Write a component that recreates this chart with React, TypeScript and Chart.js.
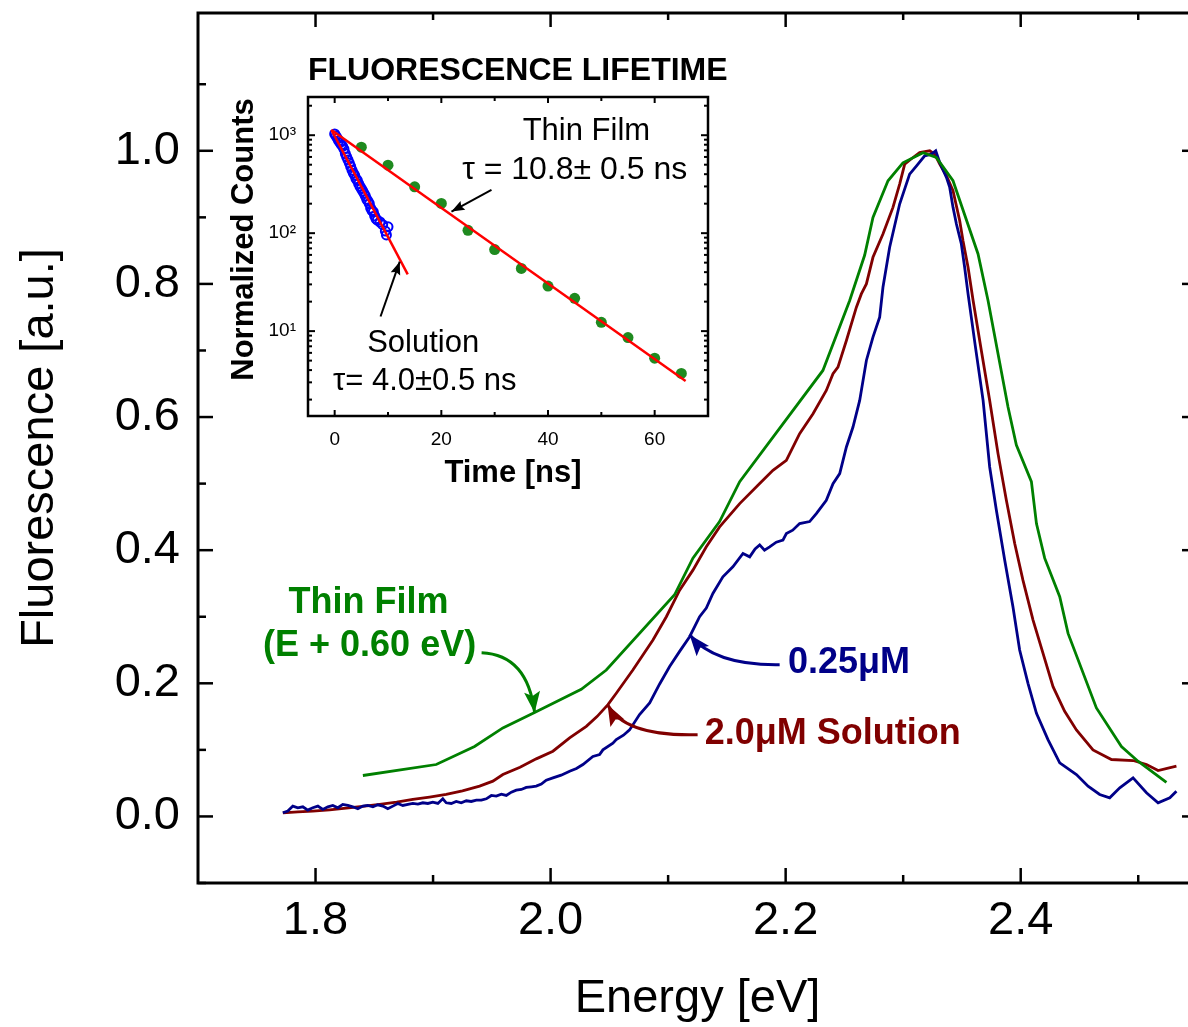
import React, { useEffect, useRef } from "react";
import { Chart, registerables } from "chart.js";

Chart.register(...registerables);

const FONT = '"Liberation Sans", Arial, Helvetica, sans-serif';

// ---------- main spectra ----------
const lowConcE = [
  1.7722, 1.7764, 1.7807, 1.7849, 1.7892, 1.7934, 1.7977, 1.802, 1.8062, 1.8105, 1.8147, 1.819, 1.8232, 1.8275,
  1.8317, 1.836, 1.8403, 1.8445, 1.8488, 1.853, 1.8573, 1.8615, 1.8658, 1.87, 1.8743, 1.8786, 1.8828, 1.8871,
  1.8913, 1.8956, 1.8998, 1.9041, 1.9083, 1.9112, 1.9155, 1.9197, 1.924, 1.9283, 1.9325, 1.9368, 1.9411, 1.9453,
  1.9496, 1.9538, 1.9581, 1.9623, 1.9666, 1.9708, 1.9751, 1.9793, 1.9836, 1.9878, 1.9921, 1.9963, 2.002, 2.009,
  2.0162, 2.022, 2.0275, 2.036, 2.0417, 2.0445, 2.053, 2.0559, 2.062, 2.0672, 2.0757, 2.0843, 2.0928, 2.1013,
  2.1098, 2.1183, 2.1268, 2.1325, 2.1381, 2.1466, 2.1551, 2.1637, 2.1694, 2.174, 2.1779, 2.182, 2.1864, 2.192,
  2.1977, 2.2006, 2.206, 2.2119, 2.2204, 2.2261, 2.2346, 2.2403, 2.246, 2.2517, 2.2573, 2.263, 2.2687, 2.2743,
  2.28, 2.2828, 2.2885, 2.297, 2.3055, 2.3112, 2.3183, 2.324, 2.3277, 2.3311, 2.3368, 2.3396, 2.3424, 2.3453,
  2.3495, 2.3523, 2.3552, 2.3615, 2.368, 2.3736, 2.3793, 2.3864, 2.3934, 2.3991, 2.4062, 2.4134, 2.4232, 2.4332,
  2.4474, 2.4573, 2.4672, 2.4757, 2.4843, 2.4956, 2.507, 2.5169, 2.5269, 2.5325,
];
const lowConcF = [
  0.0055, 0.008, 0.0155, 0.013, 0.0145, 0.0095, 0.013, 0.0155, 0.0105, 0.0145, 0.0165, 0.013, 0.018, 0.0165,
  0.0145, 0.0115, 0.0155, 0.0165, 0.0145, 0.0175, 0.0155, 0.0115, 0.0155, 0.0195, 0.0165, 0.018, 0.0195, 0.0185,
  0.0205, 0.0195, 0.0215, 0.0195, 0.0265, 0.0205, 0.0195, 0.0225, 0.0205, 0.0235, 0.0225, 0.0245, 0.0245, 0.0265,
  0.0315, 0.0305, 0.0335, 0.0315, 0.0365, 0.0395, 0.0405, 0.0435, 0.0445, 0.0455, 0.0485, 0.0545, 0.058, 0.062,
  0.068, 0.072, 0.078, 0.09, 0.093, 0.1, 0.11, 0.1155, 0.122, 0.13, 0.153, 0.1705, 0.199, 0.2253,
  0.248, 0.27, 0.3, 0.313, 0.335, 0.36, 0.375, 0.395, 0.39, 0.402, 0.408, 0.4, 0.405, 0.412,
  0.415, 0.425, 0.43, 0.44, 0.443, 0.455, 0.475, 0.5, 0.515, 0.555, 0.585, 0.625, 0.685, 0.72,
  0.75, 0.795, 0.855, 0.92, 0.965, 0.977, 0.9925, 0.995, 1.0, 0.9825, 0.96, 0.945, 0.915, 0.89,
  0.86, 0.825, 0.785, 0.705, 0.625, 0.525, 0.46, 0.385, 0.315, 0.25, 0.2, 0.155, 0.1155, 0.0805,
  0.063, 0.0454, 0.033, 0.028, 0.043, 0.058, 0.0355, 0.0205, 0.028, 0.038,
];

const highConcE = [
  1.7722, 1.785, 1.7977, 1.812, 1.8261, 1.84, 1.8545, 1.869, 1.8828, 1.897, 1.9112, 1.925, 1.9396, 1.9509,
  1.9594, 1.974, 1.9878, 2.002, 2.0162, 2.0304, 2.0395, 2.0488, 2.0559, 2.07, 2.0871, 2.0985, 2.1098, 2.1211,
  2.1325, 2.1438, 2.1609, 2.1779, 2.1892, 2.2006, 2.2119, 2.2233, 2.2346, 2.2403, 2.2445, 2.2517, 2.2602, 2.2644,
  2.2687, 2.2743, 2.2828, 2.2913, 2.297, 2.3013, 2.307, 2.314, 2.3226, 2.3268, 2.3311, 2.3368, 2.3424, 2.3481,
  2.3509, 2.3552, 2.3595, 2.3665, 2.3736, 2.3807, 2.3878, 2.3949, 2.4019, 2.4105, 2.419, 2.4275, 2.4374, 2.4474,
  2.4615, 2.4772, 2.4956, 2.507, 2.5169, 2.5325,
];
const highConcF = [
  0.0055, 0.007, 0.008, 0.01, 0.0125, 0.015, 0.018, 0.0215, 0.0255, 0.029, 0.033, 0.0385, 0.0455, 0.053,
  0.063, 0.074, 0.0865, 0.098, 0.118, 0.1354, 0.15, 0.168, 0.185, 0.22, 0.265, 0.3, 0.34, 0.37,
  0.405, 0.435, 0.47, 0.5, 0.52, 0.535, 0.575, 0.605, 0.64, 0.665, 0.675, 0.715, 0.765, 0.785,
  0.8, 0.84, 0.875, 0.915, 0.95, 0.98, 0.988, 0.9975, 1.0, 0.995, 0.98, 0.9625, 0.94, 0.895,
  0.865, 0.825, 0.775, 0.7, 0.625, 0.545, 0.475, 0.41, 0.355, 0.295, 0.245, 0.195, 0.158, 0.13,
  0.1, 0.0855, 0.084, 0.078, 0.069, 0.0755,
];

const filmE = [
  1.8403, 1.9027, 1.9353, 1.9594, 1.9864, 2.0261, 2.0474, 2.1055, 2.1211, 2.1438, 2.1609, 2.2317, 2.2545, 2.2672,
  2.2743, 2.2871, 2.2998, 2.3169, 2.3282, 2.3424, 2.3637, 2.3722, 2.3892, 2.3963, 2.4091, 2.4134, 2.4204, 2.4332,
  2.4403, 2.4644, 2.4857, 2.4998, 2.524,
];
const filmF = [
  0.0615, 0.078, 0.105, 0.133, 0.156, 0.191, 0.22, 0.333, 0.388, 0.443, 0.503, 0.67, 0.775, 0.843,
  0.9, 0.955, 0.982, 0.997, 0.99, 0.955, 0.845, 0.775, 0.615, 0.558, 0.503, 0.44, 0.388, 0.33,
  0.275, 0.163, 0.105, 0.083, 0.051,
];

const xTickValues = [1.8, 2.0, 2.2, 2.4];
const xMinorValues = [1.9, 2.1, 2.3, 2.5];
const yTickValues = [0, 0.2, 0.4, 0.6, 0.8, 1.0];
const yMinorValues = [-0.1, 0.1, 0.3, 0.5, 0.7, 0.9, 1.1];

// annotation anchors (data coordinates)
const filmLabelAt = [1.845, 0.3208];
const filmShiftLabelAt = [1.846, 0.2564];
const lowConcLabelAt = [2.202, 0.2309];
const highConcLabelAt = [2.1311, 0.1244];
const filmArrow = [[1.9413, 0.2459], [1.9804, 0.2429], [1.9864, 0.1559]];
const lowConcArrow = [[2.1949, 0.2279], [2.1396, 0.2264], [2.1183, 0.2729]];
const highConcArrow = [[2.1251, 0.1229], [2.063, 0.1199], [2.0485, 0.1679]];

// ---------- inset: fluorescence lifetime ----------
const filmT = [5, 10, 15, 20, 25, 30, 35, 40, 45, 50, 55, 60, 65];
const filmCounts = [755, 494, 297, 201, 107, 68, 43.6, 28.8, 21.6, 12.3, 8.6, 5.3, 3.7];
const solT = [
  0, 0.25, 0.5, 0.75, 1.0, 1.25, 1.5, 1.75, 2.0, 2.25, 2.5, 2.75, 3.0, 3.25, 3.5, 3.75, 4.0, 4.25, 4.5,
  4.75, 5.0, 5.25, 5.5, 5.75, 6.0, 6.25, 6.5, 6.75, 7.0, 7.25, 7.5, 7.75, 8.0, 8.5, 9.0, 9.5, 9.7, 10.0,
];
const solCounts = [
  1030, 980, 930, 880, 840, 800, 770, 720, 650, 600, 560, 520, 480, 440, 410, 390, 360, 345, 320,
  300, 285, 270, 255, 240, 222, 212, 200, 180, 170, 165, 150, 140, 136, 130, 122, 105, 96, 116,
];
const filmFitT = [-0.6, 65.8];
const filmFitCounts = [1130, 3.1];
const solFitT = [-0.6, 13.7];
const solFitCounts = [1130, 38];

const insetXTicks = [0, 20, 40, 60];
const insetXMinor = [10, 30, 50];
const insetYTicks = [10, 100, 1000];
const insetYTickLabels = ["10¹", "10²", "10³"];

const insetFilmNameAt = [47.2, 1086];
const insetFilmTauAt = [45.0, 441];
const insetFilmArrow = [[29.4, 276], [21.9, 166]];
const insetSolNameAt = [16.6, 7.52];
const insetSolTauAt = [16.9, 3.05];
const insetSolArrow = [[8.6, 14.1], [12.2, 51.2]];

const FILM_GREEN = "#008000";
const LOW_BLUE = "#000088";
const HIGH_RED = "#800000";

function xy(xs: number[], ys: number[]) {
  return xs.map((x, i) => ({ x, y: ys[i] }));
}

function seg(ctx: CanvasRenderingContext2D, x1: number, y1: number, x2: number, y2: number) {
  ctx.beginPath();
  ctx.moveTo(x1, y1);
  ctx.lineTo(x2, y2);
  ctx.stroke();
}

function arrowHead(
  ctx: CanvasRenderingContext2D,
  tx: number, ty: number, fx: number, fy: number,
  len: number, half: number, notch: number
) {
  const a = Math.atan2(ty - fy, tx - fx);
  const c = Math.cos(a), s = Math.sin(a);
  const bx = tx - len * c, by = ty - len * s;
  ctx.beginPath();
  ctx.moveTo(tx, ty);
  ctx.lineTo(bx - half * s, by + half * c);
  ctx.lineTo(tx - len * notch * c, ty - len * notch * s);
  ctx.lineTo(bx + half * s, by - half * c);
  ctx.closePath();
  ctx.fill();
}

function noScalePadding(s: any) {
  s.paddingTop = 0;
  s.paddingBottom = 0;
  s.paddingLeft = 0;
  s.paddingRight = 0;
}

const mainDecor = {
  id: "mainDecor",
  afterDraw(chart: any) {
    const { ctx, chartArea: a, scales } = chart;
    const xs = scales.x, ys = scales.y;
    const P = (p: number[]) => [xs.getPixelForValue(p[0]), ys.getPixelForValue(p[1])];
    ctx.save();
    ctx.strokeStyle = "#000";
    ctx.lineCap = "butt";
    ctx.lineWidth = 2.5;
    for (const v of xTickValues) {
      const p = xs.getPixelForValue(v);
      seg(ctx, p, a.bottom, p, a.bottom - 15);
      seg(ctx, p, a.top, p, a.top + 14);
    }
    for (const v of xMinorValues) {
      const p = xs.getPixelForValue(v);
      seg(ctx, p, a.bottom, p, a.bottom - 8);
      seg(ctx, p, a.top, p, a.top + 7);
    }
    for (const v of yTickValues) {
      const p = ys.getPixelForValue(v);
      seg(ctx, a.left, p, a.left + 15, p);
      seg(ctx, a.right, p, a.right - 15, p);
    }
    for (const v of yMinorValues) {
      const p = ys.getPixelForValue(v);
      seg(ctx, a.left, p, a.left + 8, p);
      seg(ctx, a.right, p, a.right - 8, p);
    }
    ctx.lineWidth = 3;
    ctx.strokeRect(a.left, a.top, a.right - a.left, a.bottom - a.top);

    // labels
    ctx.font = `bold 36px ${FONT}`;
    ctx.textBaseline = "middle";
    ctx.fillStyle = FILM_GREEN;
    ctx.textAlign = "center";
    let q = P(filmLabelAt);
    ctx.fillText("Thin Film", q[0], q[1]);
    q = P(filmShiftLabelAt);
    ctx.fillText("(E + 0.60 eV)", q[0], q[1]);
    ctx.textAlign = "left";
    ctx.fillStyle = LOW_BLUE;
    q = P(lowConcLabelAt);
    ctx.fillText("0.25μM", q[0], q[1]);
    ctx.fillStyle = HIGH_RED;
    q = P(highConcLabelAt);
    ctx.fillText("2.0μM Solution", q[0], q[1]);

    // curved arrows
    const arrows: [number[][], string][] = [
      [filmArrow, FILM_GREEN],
      [lowConcArrow, LOW_BLUE],
      [highConcArrow, HIGH_RED],
    ];
    for (const [pts, col] of arrows) {
      const s = P(pts[0]), c = P(pts[1]), t = P(pts[2]);
      ctx.strokeStyle = col;
      ctx.fillStyle = col;
      ctx.lineWidth = 3;
      ctx.beginPath();
      ctx.moveTo(s[0], s[1]);
      ctx.quadraticCurveTo(c[0], c[1], t[0], t[1]);
      ctx.stroke();
      arrowHead(ctx, t[0], t[1], c[0], c[1], 21, 8, 0.8);
    }
    ctx.restore();
  },
};

const insetDecor = {
  id: "insetDecor",
  afterDraw(chart: any) {
    const { ctx, chartArea: a, scales } = chart;
    const xs = scales.x, ys = scales.y;
    const P = (p: number[]) => [xs.getPixelForValue(p[0]), ys.getPixelForValue(p[1])];
    ctx.save();
    ctx.strokeStyle = "#000";
    ctx.lineWidth = 2;
    for (const v of insetXTicks) {
      const p = xs.getPixelForValue(v);
      seg(ctx, p, a.bottom, p, a.bottom - 6);
      seg(ctx, p, a.top, p, a.top + 6);
    }
    for (const v of insetXMinor) {
      const p = xs.getPixelForValue(v);
      seg(ctx, p, a.bottom, p, a.bottom - 4);
      seg(ctx, p, a.top, p, a.top + 4);
    }
    for (let k = 0; k <= 3; k++) {
      for (let m = 1; m <= 9; m++) {
        const v = m * Math.pow(10, k);
        if (v < ys.min || v > ys.max) continue;
        const p = ys.getPixelForValue(v);
        const len = m === 1 ? 7 : 4;
        seg(ctx, a.left, p, a.left + len, p);
        seg(ctx, a.right, p, a.right - len, p);
      }
    }
    ctx.lineWidth = 2.5;
    ctx.strokeRect(a.left, a.top, a.right - a.left, a.bottom - a.top);

    ctx.fillStyle = "#000";
    ctx.textBaseline = "middle";
    ctx.font = `bold 32px ${FONT}`;
    ctx.textAlign = "left";
    ctx.fillText("FLUORESCENCE LIFETIME", a.left, a.top - 26);
    ctx.font = `bold 31px ${FONT}`;
    ctx.textAlign = "center";
    ctx.fillText("Time [ns]", (a.left + a.right) / 2 + 5, a.bottom + 57);
    ctx.save();
    ctx.translate(a.left - 64, (a.top + a.bottom) / 2 - 17);
    ctx.rotate(-Math.PI / 2);
    ctx.fillText("Normalized Counts", 0, 0);
    ctx.restore();

    ctx.font = `31px ${FONT}`;
    let q = P(insetFilmNameAt);
    ctx.fillText("Thin Film", q[0], q[1]);
    q = P(insetFilmTauAt);
    ctx.font = `32px ${FONT}`;
    ctx.fillText("τ = 10.8± 0.5 ns", q[0], q[1]);
    ctx.font = `31px ${FONT}`;
    q = P(insetSolNameAt);
    ctx.fillText("Solution", q[0], q[1]);
    q = P(insetSolTauAt);
    ctx.fillText("τ= 4.0±0.5 ns", q[0], q[1]);

    ctx.strokeStyle = "#000";
    ctx.lineWidth = 2;
    for (const arr of [insetFilmArrow, insetSolArrow]) {
      const f = P(arr[0]), t = P(arr[1]);
      seg(ctx, f[0], f[1], t[0], t[1]);
      arrowHead(ctx, t[0], t[1], f[0], f[1], 13, 5, 0.85);
    }
    ctx.restore();
  },
};

export default function App() {
  const mainRef = useRef<HTMLCanvasElement | null>(null);
  const insetRef = useRef<HTMLCanvasElement | null>(null);

  useEffect(() => {
    if (!mainRef.current || !insetRef.current) return;
    const tickFont = { family: FONT, size: 47 };
    const main = new Chart(mainRef.current, {
      type: "scatter",
      data: {
        datasets: [
          { label: "Thin Film (E + 0.60 eV)", data: xy(filmE, filmF), showLine: true, borderColor: FILM_GREEN, borderWidth: 2.8, pointRadius: 0, fill: false },
          { label: "0.25 μM", data: xy(lowConcE, lowConcF), showLine: true, borderColor: LOW_BLUE, borderWidth: 2.8, pointRadius: 0, fill: false },
          { label: "2.0 μM Solution", data: xy(highConcE, highConcF), showLine: true, borderColor: HIGH_RED, borderWidth: 2.8, pointRadius: 0, fill: false },
        ],
      },
      options: {
        animation: false,
        responsive: false,
        devicePixelRatio: 1,
        layout: { padding: { left: 0, top: 13, right: 13, bottom: 0 } },
        plugins: { legend: { display: false }, tooltip: { enabled: false } },
        elements: { line: { tension: 0 } },
        scales: {
          x: {
            type: "linear",
            min: 1.7,
            max: 2.55,
            grid: { display: false, drawTicks: false },
            border: { display: false },
            afterBuildTicks: (s: any) => { s.ticks = xTickValues.map((v) => ({ value: v })); },
            afterFit: (s: any) => { s.height = 144; noScalePadding(s); },
            ticks: { padding: 10, font: tickFont, color: "#000", autoSkip: false, maxRotation: 0, callback: (v: any) => Number(v).toFixed(1) },
            title: { display: true, text: "Energy [eV]", font: tickFont, color: "#000", padding: { top: 0, bottom: 0 } },
          },
          y: {
            type: "linear",
            min: -0.1,
            max: 1.207,
            grid: { display: false, drawTicks: false },
            border: { display: false },
            afterBuildTicks: (s: any) => { s.ticks = yTickValues.map((v) => ({ value: v })); },
            afterFit: (s: any) => { s.width = 198; noScalePadding(s); },
            ticks: { padding: 18, font: tickFont, color: "#000", autoSkip: false, callback: (v: any) => Number(v).toFixed(1) },
            title: { display: true, text: "Fluorescence [a.u.]", font: tickFont, color: "#000", padding: { top: 12, bottom: 0 } },
          },
        },
      },
      plugins: [mainDecor],
    } as any);

    const insetFont = { family: FONT, size: 19 };
    const inset = new Chart(insetRef.current, {
      type: "scatter",
      data: {
        datasets: [
          { label: "Thin film fit", data: xy(filmFitT, filmFitCounts), showLine: true, borderColor: "#ff0000", borderWidth: 2.5, pointRadius: 0 },
          { label: "Solution fit", data: xy(solFitT, solFitCounts), showLine: true, borderColor: "#ff0000", borderWidth: 2.5, pointRadius: 0 },
          { label: "Solution", data: xy(solT, solCounts), showLine: false, pointRadius: 4.5, pointBackgroundColor: "rgba(0,0,0,0)", pointBorderColor: "#0000ff", pointBorderWidth: 2 },
          { label: "Thin Film", data: xy(filmT, filmCounts), showLine: false, pointRadius: 5.5, pointBackgroundColor: "#1f8a1f", pointBorderWidth: 0 },
        ],
      },
      options: {
        animation: false,
        responsive: false,
        devicePixelRatio: 1,
        layout: { padding: { left: 0, top: 47, right: 72, bottom: 0 } },
        plugins: { legend: { display: false }, tooltip: { enabled: false } },
        scales: {
          x: {
            type: "linear",
            min: -5,
            max: 70,
            grid: { display: false, drawTicks: false },
            border: { display: false },
            afterBuildTicks: (s: any) => { s.ticks = insetXTicks.map((v) => ({ value: v })); },
            afterFit: (s: any) => { s.height = 84; noScalePadding(s); },
            ticks: { padding: 12, font: insetFont, color: "#000", autoSkip: false, maxRotation: 0, callback: (v: any) => String(v) },
          },
          y: {
            type: "logarithmic",
            min: 1.36,
            max: 2455,
            grid: { display: false, drawTicks: false },
            border: { display: false },
            afterBuildTicks: (s: any) => { s.ticks = insetYTicks.map((v) => ({ value: v })); },
            afterFit: (s: any) => { s.width = 88; noScalePadding(s); },
            ticks: { padding: 12, font: insetFont, color: "#000", autoSkip: false, callback: (v: any) => insetYTickLabels[insetYTicks.indexOf(Number(v))] ?? "" },
          },
        },
      },
      plugins: [insetDecor],
    } as any);

    return () => {
      main.destroy();
      inset.destroy();
    };
  }, []);

  return (
    <div style={{ position: "fixed", left: 0, top: 0, width: 1188, height: 1027, overflow: "hidden", background: "#fff" }}>
      <canvas ref={mainRef} width={1210} height={1027} style={{ position: "absolute", left: 0, top: 0, width: 1210, height: 1027 }} />
      <canvas ref={insetRef} width={560} height={450} style={{ position: "absolute", left: 220, top: 50, width: 560, height: 450 }} />
    </div>
  );
}
